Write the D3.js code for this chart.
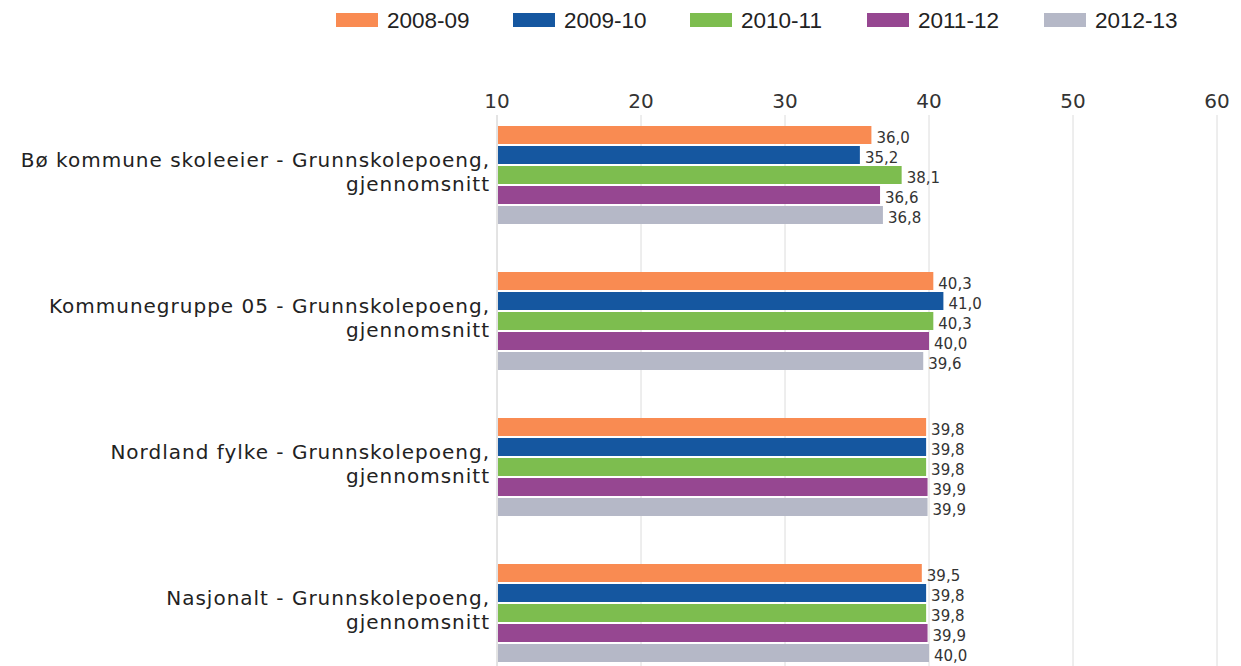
<!DOCTYPE html>
<html>
<head>
<meta charset="utf-8">
<script src="https://cdn.jsdelivr.net/npm/d3@7"></script>
<style>
  body { margin: 0; background: #fff; }
  svg { display: block; }
</style>
</head>
<body>
<svg id="chart"></svg>
<script>
// grouped horizontal bars, grunnskolepoeng per area and school year

var categories = [
    ["Bø kommune skoleeier - Grunnskolepoeng,", "gjennomsnitt"],
    ["Kommunegruppe 05 - Grunnskolepoeng,", "gjennomsnitt"],
    ["Nordland fylke - Grunnskolepoeng,", "gjennomsnitt"],
    ["Nasjonalt - Grunnskolepoeng,", "gjennomsnitt"]
];
var years = ["2008-09", "2009-10", "2010-11", "2011-12", "2012-13"];
var v2008 = [36.0, 40.3, 39.8, 39.5];
var v2009 = [35.2, 41.0, 39.8, 39.8];
var v2010 = [38.1, 40.3, 39.8, 39.8];
var v2011 = [36.6, 40.0, 39.9, 39.9];
var v2012 = [36.8, 39.6, 39.9, 40.0];
var ticks = [10, 20, 30, 40, 50, 60];

var series = [v2008, v2009, v2010, v2011, v2012];
var colors = ['#f98b52', '#1557a0', '#7dbd4f', '#964791', '#b5b8c7'];

var width = 1241, height = 666;
var svg = d3.select('#chart').attr('width', width).attr('height', height);

var x = d3.scaleLinear().domain([10, 60]).range([497, 1217]);
var groupY = d3.scaleBand().domain(d3.range(categories.length)).range([113, 113 + 146 * 4]);
var barY = d3.scaleBand().domain(d3.range(years.length)).range([12, 112]).paddingInner(0.1).paddingOuter(0.05);

// grid + axis
svg.append('g')
    .selectAll('line')
    .data(ticks)
    .join('line')
    .attr('x1', d => x(d)).attr('x2', d => x(d))
    .attr('y1', 115).attr('y2', height)
    .attr('stroke', d => d === 10 ? '#c8c8c8' : '#dcdcdc')
    .attr('stroke-width', 1);

svg.append('g')
    .selectAll('text')
    .data(ticks)
    .join('text')
    .attr('x', d => x(d))
    .attr('y', 108)
    .attr('text-anchor', 'middle')
    .style('font-family', 'DejaVu Sans')
    .style('font-size', '20px')
    .style('fill', '#333')
    .text(d => d);

// bars
var groups = svg.append('g')
    .selectAll('g')
    .data(categories)
    .join('g')
    .attr('transform', (d, i) => `translate(0,${groupY(i)})`);

groups.selectAll('rect')
    .data((d, i) => series.map((s, j) => ({ s: j, v: s[i] })))
    .join('rect')
    .attr('x', x(10) + 1)
    .attr('y', d => barY(d.s))
    .attr('width', d => x(d.v) - x(10) - 1)
    .attr('height', barY.bandwidth())
    .attr('fill', d => colors[d.s]);

groups.selectAll('text.val')
    .data((d, i) => series.map((s, j) => ({ s: j, v: s[i] })))
    .join('text')
    .attr('class', 'val')
    .attr('x', d => x(d.v) + 5)
    .attr('y', d => barY(d.s) + barY.bandwidth() / 2 + 8)
    .style('font-family', 'DejaVu Sans')
    .style('font-size', '15px')
    .style('fill', '#333')
    .text(d => d.v.toFixed(1).replace('.', ','));

// category labels
var cat = groups.append('text')
    .attr('text-anchor', 'end')
    .style('font-family', 'DejaVu Sans')
    .style('font-size', '20px')
    .style('letter-spacing', '1px')
    .style('fill', '#222');

cat.selectAll('tspan')
    .data(d => d)
    .join('tspan')
    .attr('x', 490)
    .attr('y', (d, i) => 54 + i * 24)
    .text(d => d);

// legend
var lx = d3.scaleBand().domain(years).range([336, 336 + 177 * 5]);
var leg = svg.append('g')
    .selectAll('g')
    .data(years)
    .join('g')
    .attr('transform', d => `translate(${lx(d)},0)`);

leg.append('rect')
    .attr('y', 13).attr('width', 42).attr('height', 14)
    .attr('fill', (d, i) => colors[i]);

leg.append('text')
    .attr('x', 51).attr('y', 28)
    .style('font-family', 'Liberation Sans')
    .style('font-size', '22.5px')
    .style('fill', '#222')
    .text(d => d);
</script>
</body>
</html>
